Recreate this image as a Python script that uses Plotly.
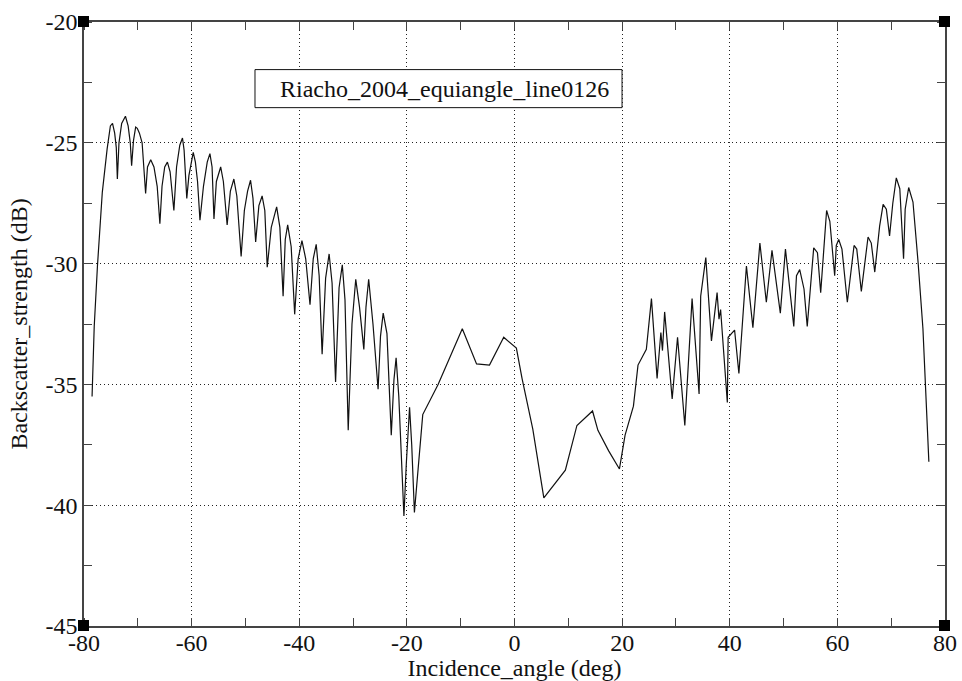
import plotly.graph_objects as go

# ---- data ----
angle = [
    -78.5, -78.1, -77.5, -76.6, -75.7, -75.1, -74.7, -74.3, -74.0, -73.8,
    -73.5, -73.0, -72.3, -71.8, -71.4, -71.15, -70.8, -70.4, -70.1, -69.7,
    -69.2, -68.55, -68.2, -67.6, -67.0, -66.4, -65.9, -65.5, -65.0, -64.5,
    -64.0, -63.6, -63.3, -62.8, -62.2, -61.7, -61.4, -60.9, -60.5, -59.7,
    -59.3, -58.9, -58.45, -57.8, -57.1, -56.6, -56.2, -55.85, -55.4, -54.6,
    -54.1, -53.4, -52.8, -52.15, -51.6, -50.8, -50.2, -49.6, -49.05, -48.6,
    -48.1, -47.5, -46.9, -46.4, -45.95, -45.2, -44.2, -43.6, -43.0, -42.6,
    -42.15, -41.5, -40.85, -40.2, -39.5, -38.8, -38.0, -37.4, -36.85, -36.3,
    -35.75, -35.1, -34.45, -33.9, -33.25, -32.6, -32.0, -31.5, -30.9, -30.2,
    -29.5, -28.8, -28.0, -27.6, -27.1, -26.3, -25.35, -24.9, -24.4, -23.7,
    -22.9, -22.4, -22.0, -21.5, -20.55, -20.1, -19.5, -19.1, -18.6, -17.05,
    -14.2, -9.7, -7.05, -4.65, -2.0, 0.35, 1.4, 3.4, 5.45, 9.45,
    11.6, 14.5, 15.5, 17.5, 19.5, 20.55, 22.1, 22.95, 24.5, 25.45,
    26.5, 27.2, 27.5, 27.9, 29.3, 30.3, 31.65, 33.0, 34.3, 34.6,
    35.55, 36.6, 37.65, 38.0, 38.3, 39.55, 39.7, 40.9, 41.7, 43.1,
    44.3, 45.6, 46.8, 47.85, 49.4, 50.35, 51.9, 52.4, 53.0, 53.8,
    54.4, 55.6, 56.3, 56.9, 58.0, 58.6, 59.5, 59.8, 60.25, 60.85,
    61.85, 63.1, 63.6, 64.45, 65.7, 66.3, 66.95, 67.85, 68.5, 69.1,
    69.7, 70.3, 70.95, 71.6, 72.3, 72.6, 73.25, 74.05, 75.0, 75.9,
    77.0,
]
backscatter = [
    -35.5, -32.6, -30.1, -27.05, -25.25, -24.3, -24.2, -24.6, -25.2, -26.5,
    -25.0, -24.2, -23.9, -24.3, -25.0, -25.95, -24.9, -24.35, -24.4, -24.6,
    -25.0, -27.1, -26.0, -25.7, -26.0, -26.8, -28.35, -26.8, -26.0, -25.8,
    -26.2, -27.0, -27.8, -26.0, -25.1, -24.8, -25.3, -27.3, -26.35, -25.4,
    -25.8, -26.6, -28.2, -26.8, -25.8, -25.45, -26.0, -28.15, -26.6, -26.0,
    -26.6, -28.4, -27.0, -26.5, -27.2, -29.7, -27.8, -27.0, -26.55, -27.3,
    -29.1, -27.6, -27.2, -27.8, -30.15, -28.5, -27.65, -28.5, -31.35, -29.0,
    -28.4, -29.3, -32.1, -29.8, -29.05, -29.8, -31.7, -29.8, -29.2, -30.5,
    -33.75, -30.6, -29.6, -30.8, -34.9, -31.0, -30.05, -31.5, -36.9, -32.5,
    -30.65, -31.8, -33.55, -31.8, -30.65, -32.5, -35.2, -33.0, -32.05, -32.9,
    -37.1, -34.8, -33.9, -35.5, -40.45, -38.25, -35.95, -37.5, -40.3, -36.25,
    -35.0, -32.7, -34.15, -34.2, -33.05, -33.5, -34.75, -36.85, -39.7, -38.55,
    -36.7, -36.1, -36.9, -37.75, -38.5, -37.1, -35.9, -34.2, -33.55, -31.45,
    -34.75, -32.85, -33.6, -32.0, -35.6, -33.05, -36.7, -31.45, -35.4, -31.35,
    -29.75, -33.2, -31.2, -32.3, -31.9, -35.75, -33.05, -32.75, -34.55, -30.1,
    -32.65, -29.15, -31.6, -29.45, -32.05, -29.4, -32.6, -30.5, -30.25, -31.05,
    -32.6, -29.35, -29.55, -31.2, -27.8, -28.25, -30.5, -29.25, -29.0, -29.4,
    -31.6, -29.25, -29.4, -31.15, -28.9, -29.15, -30.35, -28.45, -27.55, -27.75,
    -28.85, -27.5, -26.45, -26.9, -29.8, -27.75, -26.85, -27.45, -29.95, -32.7,
    -38.2,
]
series_name = "Riacho_2004_equiangle_line0126"
x_title = "Incidence_angle (deg)"
y_title = "Backscatter_strength (dB)"
x_range = [-80, 80]
y_range = [-45, -20]
x_tickvals = [-80, -60, -40, -20, 0, 20, 40, 60, 80]
x_ticktext = ["-80", "-60", "-40", "-20", "0", "20", "40", "60", "80"]
y_tickvals = [-45, -40, -35, -30, -25, -20]
y_ticktext = ["-45", "-40", "-35", "-30", "-25", "-20"]

FONT = "Liberation Serif, Times New Roman, serif"
INK = "#111111"

fig = go.Figure()
fig.add_trace(go.Scatter(
    x=angle, y=backscatter, mode="lines", name=series_name,
    line=dict(color=INK, width=1.2), showlegend=False,
))

axis_common = dict(
    showline=True, linecolor="#444444", linewidth=1.5, mirror="allticks",
    showgrid=True, gridcolor="#222222", gridwidth=1, griddash="1px,3px",
    ticks="", zeroline=False, automargin=False,
    tickfont=dict(family=FONT, size=24, color=INK),
)

fig.update_xaxes(
    range=x_range, tickmode="array", tickvals=x_tickvals, ticktext=x_ticktext,
    **axis_common, ticklabelstandoff=-6,
    minor=dict(ticks="inside", dtick=10, tick0=-80, ticklen=8, tickcolor="#444444", showgrid=False),
    title=dict(text=x_title, font=dict(family=FONT, size=24, color=INK), standoff=6),
)
fig.update_yaxes(
    range=y_range, tickmode="array", tickvals=y_tickvals, ticktext=y_ticktext,
    **axis_common, ticklabelstandoff=0,
    minor=dict(ticks="inside", dtick=2.5, tick0=-45, ticklen=8, tickcolor="#444444", showgrid=False),
    title=dict(text=y_title, font=dict(family=FONT, size=24, color=INK), standoff=11),
)

# corner markers
for cx in (0, 1):
    for cy in (0, 1):
        fig.add_shape(type="rect", xref="x domain", yref="y domain",
                      xsizemode="pixel", ysizemode="pixel", xanchor=cx, yanchor=cy,
                      x0=-6, x1=5, y0=-5, y1=6, fillcolor="black", line=dict(width=0))

# legend box
fig.add_shape(type="rect", xref="paper", yref="paper",
              x0=0.1986, x1=0.6249, y0=0.8582, y1=0.9212,
              fillcolor="white", line=dict(color=INK, width=1), layer="above")
fig.add_annotation(
    xref="paper", yref="paper", x=0.6121, y=0.8897, xanchor="right", yanchor="middle",
    text=series_name, showarrow=False,
    font=dict(family=FONT, size=24, color=INK),
)

fig.update_layout(
    width=962, height=681,
    margin=dict(l=84, r=17, t=22, b=55),
    paper_bgcolor="white", plot_bgcolor="white",
    font=dict(family=FONT, color=INK),
)

fig.write_html("out.html", config={"displayModeBar": False},
               post_script="document.body.style.margin='0';")
